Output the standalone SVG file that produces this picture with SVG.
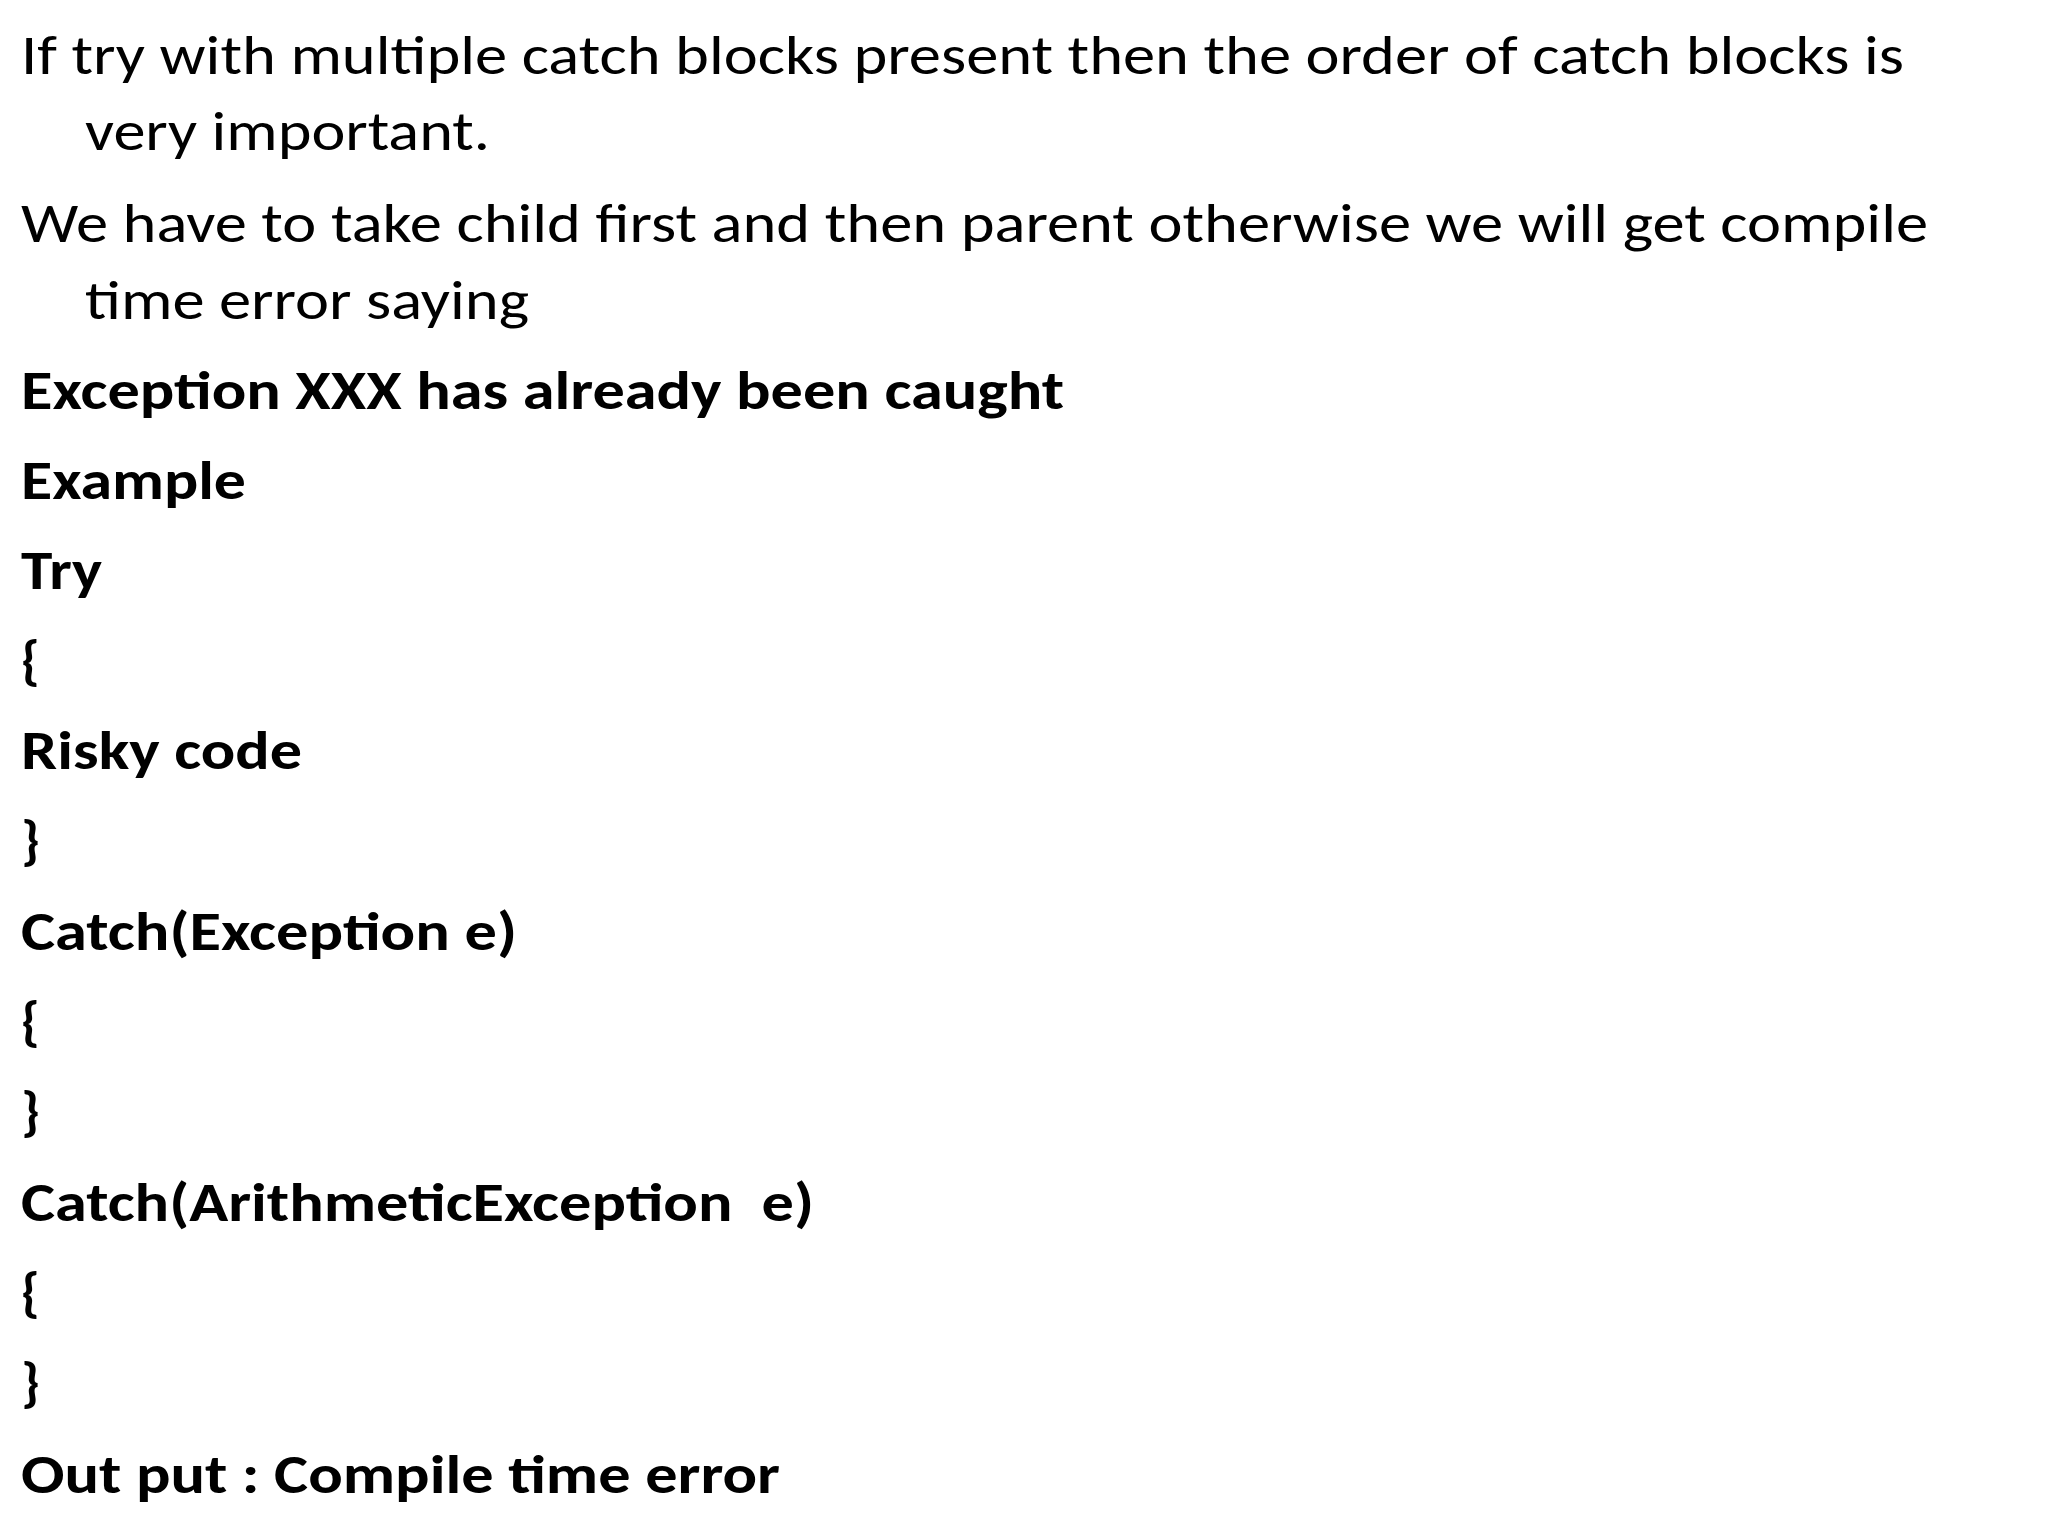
<svg xmlns="http://www.w3.org/2000/svg" width="2048" height="1536" viewBox="0 0 2048 1536">
<style>
text{font-family:Carlito,Lato,"Liberation Sans",sans-serif;font-size:55px;fill:#000}
.b{font-weight:bold}
</style>
<rect width="2048" height="1536" fill="#fff"/>
<g id="text">
<text x="21" y="74" textLength="1883" lengthAdjust="spacingAndGlyphs">If try with multiple catch blocks present then the order of catch blocks is</text>
<text x="85" y="150" textLength="405" lengthAdjust="spacingAndGlyphs">very important.</text>
<text x="21" y="242" textLength="1907" lengthAdjust="spacingAndGlyphs">We have to take child first and then parent otherwise we will get compile</text>
<text x="85" y="319" textLength="444" lengthAdjust="spacingAndGlyphs">time error saying</text>
<text class="b" x="21" y="409" textLength="1043" lengthAdjust="spacingAndGlyphs">Exception XXX has already been caught</text>
<text class="b" x="21" y="499" textLength="225" lengthAdjust="spacingAndGlyphs">Example</text>
<text class="b" x="21" y="589" textLength="81" lengthAdjust="spacingAndGlyphs">Try</text>
<text class="b" x="21" y="679">{</text>
<text class="b" x="21" y="769" textLength="281" lengthAdjust="spacingAndGlyphs">Risky code</text>
<text class="b" x="21" y="859">}</text>
<text class="b" x="21" y="950" textLength="496" lengthAdjust="spacingAndGlyphs">Catch(Exception e)</text>
<text class="b" x="21" y="1040">{</text>
<text class="b" x="21" y="1130">}</text>
<text class="b" x="21" y="1221" textLength="793" lengthAdjust="spacingAndGlyphs" xml:space="preserve">Catch(ArithmeticException  e)</text>
<text class="b" x="21" y="1311">{</text>
<text class="b" x="21" y="1401">}</text>
<text class="b" x="21" y="1493" textLength="759" lengthAdjust="spacingAndGlyphs">Out put : Compile time error</text>
</g>
</svg>
